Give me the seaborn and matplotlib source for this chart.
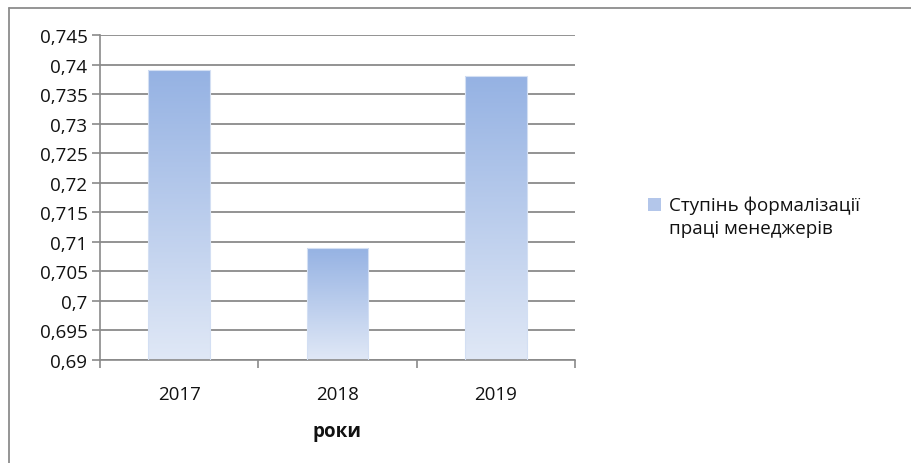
import matplotlib
matplotlib.use("Agg")
import matplotlib.pyplot as plt
import numpy as np
import pandas as pd
import seaborn as sns
from matplotlib.colors import LinearSegmentedColormap
from matplotlib.legend_handler import HandlerPatch
from matplotlib.lines import Line2D
from matplotlib.patches import Rectangle
from matplotlib.ticker import FuncFormatter, MultipleLocator

years = ["2017", "2018", "2019"]
values = [0.739, 0.709, 0.738]
series_name = "Ступінь формалізації\nпраці менеджерів"
x_title = "роки"

TOP_BLUE = "#95b2e3"
LOW_BLUE = "#e0e8f6"
GRID = "#8a8a8a"


class FirstLineHandler(HandlerPatch):
    # Excel puts the legend key next to the first line of a wrapped label
    def __init__(self, shift, **kw):
        super().__init__(**kw)
        self.shift = shift

    def create_artists(self, legend, orig_handle, xdescent, ydescent, width, height, fontsize, trans):
        p = Rectangle((-xdescent, -ydescent + self.shift), width, height,
                      facecolor="#b3c6ea", edgecolor="none", transform=trans)
        return [p]


sns.set_theme(style="white")
plt.rcParams["font.family"] = ["Open Sans", "DejaVu Sans"]

df = pd.DataFrame({"year": years, "value": values})

fig = plt.figure(figsize=(9.12, 4.64), dpi=100)
ax = fig.add_axes([0.1096, 0.222, 0.5209, 0.7004])

sns.barplot(data=df, x="year", y="value", color=TOP_BLUE, width=0.39, ax=ax)

ax.set_ylim(0.69, 0.745)
ax.set_xlim(-0.5, 2.5)

# vertical gradient inside each bar
cmap = LinearSegmentedColormap.from_list("xl", [LOW_BLUE, TOP_BLUE])
grad = np.linspace(0, 1, 256).reshape(-1, 1)
for bar in list(ax.patches):
    x0, y0 = bar.get_x(), 0.69
    x1, y1 = x0 + bar.get_width(), bar.get_height()
    bar.set_facecolor("none")
    bar.set_edgecolor("#d3dff3")
    bar.set_linewidth(0.8)
    im = ax.imshow(grad, cmap=cmap, origin="lower", aspect="auto",
                   extent=[x0, x1, y0, y1], zorder=2, interpolation="bicubic")
    im.set_clip_path(bar)
    bar.set_zorder(3)
ax.set_xlim(-0.5, 2.5)
ax.set_ylim(0.69, 0.745)

ax.yaxis.set_major_locator(MultipleLocator(0.005))
ax.yaxis.set_major_formatter(FuncFormatter(lambda v, _: f"{v:.3f}".rstrip("0").rstrip(".").replace(".", ",")))
ax.grid(axis="y", color=GRID, linewidth=1.3)
ax.set_axisbelow(True)

for side in ["top", "right"]:
    ax.spines[side].set_visible(False)
for side in ["left", "bottom"]:
    ax.spines[side].set_color(GRID)
    ax.spines[side].set_linewidth(1.2)

fs = 13.5
ax.set_xticks([-0.5, 0.5, 1.5, 2.5], minor=True)
ax.tick_params(axis="x", which="major", length=0, pad=18, labelsize=fs, labelcolor="#111")
ax.tick_params(axis="x", which="minor", length=6, width=1.2, color=GRID, direction="out", bottom=True)
ax.tick_params(axis="y", length=6, width=1.2, color=GRID, direction="out", left=True,
               labelsize=fs, labelcolor="#111", pad=3)

ax.set_xlabel(x_title, fontsize=fs, fontweight="bold", labelpad=13, color="#111")
ax.set_ylabel("")

leg = ax.legend(handles=[Rectangle((0, 0), 1, 1)], labels=[series_name],
                handler_map={Rectangle: FirstLineHandler(shift=9.0)},
                loc="upper left", bbox_to_anchor=(648 / 912, 1 - 197 / 464),
                bbox_transform=fig.transFigure, frameon=False, fontsize=fs,
                handlelength=0.7, handleheight=0.7, handletextpad=0.4,
                borderaxespad=0, borderpad=0)
for t in leg.get_texts():
    t.set_linespacing(1.3)
    t.set_color("#111")

# chart area border (only top and left edges are visible in the crop)
fig.add_artist(Line2D([9 / 912, 1], [1 - 9 / 464] * 2, color="#8c8c8c", lw=1.3, transform=fig.transFigure))
fig.add_artist(Line2D([9 / 912] * 2, [0, 1 - 9 / 464], color="#8c8c8c", lw=1.3, transform=fig.transFigure))

fig.savefig("out.png", dpi=100)
